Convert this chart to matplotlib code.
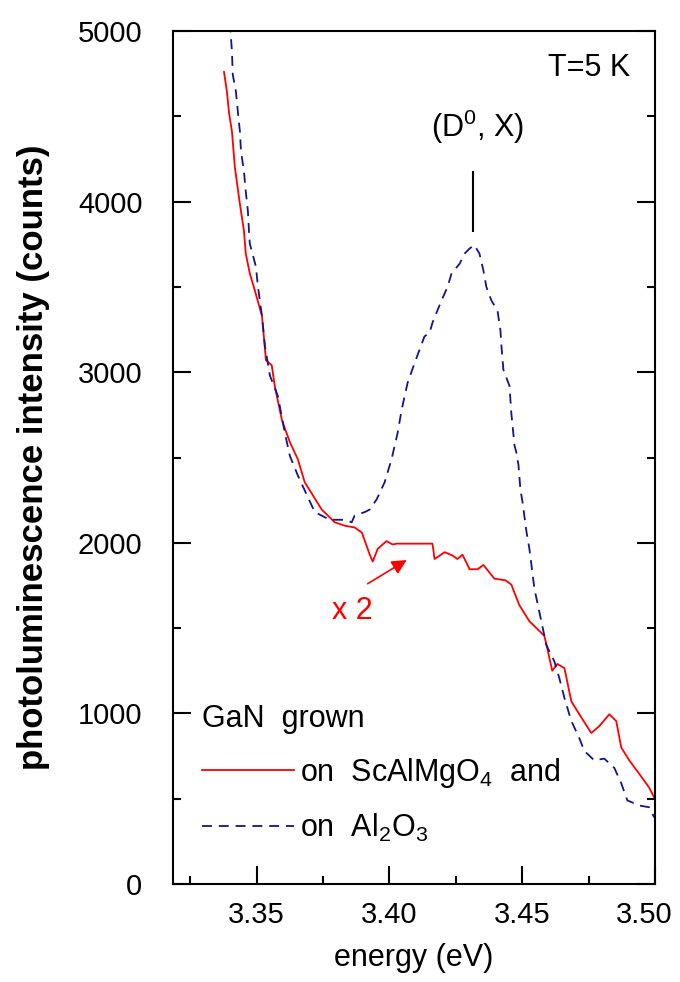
import matplotlib
matplotlib.use("Agg")
import matplotlib.pyplot as plt
import matplotlib.transforms as mtrans
from matplotlib.ticker import MultipleLocator, FixedLocator

# data (energy in eV, intensity in counts)
SCALMGO4_E = [3.3377, 3.3388, 3.3396, 3.3407, 3.3418, 3.3437, 3.3452, 3.3459,
              3.3474, 3.3493, 3.3520, 3.3527, 3.3535, 3.3557, 3.3568, 3.3595,
              3.3625, 3.3655, 3.3681, 3.3711, 3.3745, 3.3794, 3.3832, 3.3869,
              3.3896, 3.3926, 3.3937, 3.3956, 3.3989, 3.4012, 3.4027, 3.4162,
              3.4170, 3.4208, 3.4238, 3.4256, 3.4275, 3.4302, 3.4332, 3.4354,
              3.4395, 3.4437, 3.4459, 3.4489, 3.4527, 3.4583, 3.4591, 3.4613,
              3.4632, 3.4659, 3.4685, 3.4715, 3.4760, 3.4790, 3.4828, 3.4854,
              3.4873, 3.4903, 3.4941, 3.4978, 3.4997]
SCALMGO4_I = [4760, 4645, 4520, 4410, 4200, 3985, 3830, 3695,
              3580, 3480, 3330, 3210, 3070, 3040, 2920, 2720,
              2590, 2490, 2355, 2280, 2195, 2120, 2100, 2090,
              2060, 1930, 1890, 1965, 2010, 1990, 1995, 1995,
              1905, 1945, 1925, 1905, 1930, 1845, 1845, 1870,
              1790, 1780, 1755, 1635, 1540, 1455, 1405, 1250,
              1290, 1265, 1070, 995, 885, 925, 995, 955,
              800, 725, 645, 565, 507]

AL2O3_E = [3.3399, 3.3407, 3.3410, 3.3422, 3.3429, 3.3437, 3.3441, 3.3452,
           3.3459, 3.3467, 3.3471, 3.3474, 3.3497, 3.3505, 3.3520, 3.3531,
           3.3550, 3.3580, 3.3606, 3.3625, 3.3655, 3.3689, 3.3719, 3.3775,
           3.3832, 3.3858, 3.3869, 3.3907, 3.3926, 3.3952, 3.3982, 3.4008,
           3.4031, 3.4046, 3.4068, 3.4095, 3.4132, 3.4151, 3.4162, 3.4196,
           3.4219, 3.4234, 3.4264, 3.4283, 3.4302, 3.4320, 3.4339, 3.4354,
           3.4365, 3.4384, 3.4407, 3.4418, 3.4422, 3.4429, 3.4452, 3.4459,
           3.4471, 3.4478, 3.4486, 3.4493, 3.4501, 3.4516, 3.4527, 3.4546,
           3.4572, 3.4591, 3.4621, 3.4640, 3.4659, 3.4685, 3.4715, 3.4734,
           3.4771, 3.4809, 3.4847, 3.4873, 3.4896, 3.4941, 3.4978, 3.4997]
AL2O3_I = [5050, 4880, 4745, 4645, 4530, 4410, 4295, 4180,
           4060, 3945, 3830, 3755, 3620, 3500, 3330, 3155,
           2980, 2860, 2645, 2510, 2395, 2280, 2180, 2135,
           2135, 2120, 2160, 2180, 2195, 2255, 2355, 2490,
           2645, 2780, 2935, 3055, 3210, 3230, 3290, 3420,
           3500, 3580, 3635, 3695, 3725, 3745, 3695, 3595,
           3500, 3420, 3360, 3245, 3150, 3015, 2920, 2760,
           2570, 2530, 2455, 2315, 2240, 2065, 1965, 1730,
           1540, 1400, 1305, 1205, 1090, 955, 855, 780,
           725, 735, 680, 590, 490, 460, 450, 390]

X_TICKS = [3.35, 3.40, 3.45, 3.50]
X_TICK_LABELS = ["3.35", "3.40", "3.45", "3.50"]
Y_TICKS = [0, 1000, 2000, 3000, 4000, 5000]

PEAK_E = 3.4313
PEAK_MARK = (3823, 4178)
ARROW_FROM = (3.3918, 1760)
ARROW_TO = (3.4065, 1899)

RED = "#ff0000"
BLUE = "#14148c"
FONT = ["Liberation Sans", "DejaVu Sans"]


def main():
    plt.rcParams["font.family"] = FONT
    fig = plt.figure(figsize=(6.8, 9.82), dpi=100)
    ax = fig.add_axes([173 / 680, 98 / 982, 482 / 680, 853 / 982])

    ax.plot(SCALMGO4_E, SCALMGO4_I, color=RED, lw=1.3,
            label=r"on  ScAlMgO$_\mathregular{4}$  and")
    ax.plot(AL2O3_E, AL2O3_I, color=BLUE, lw=1.3, dashes=(5.5, 3.8),
            label=r"on  Al$_\mathregular{2}$O$_\mathregular{3}$")

    ax.set_xlim(3.3185, 3.50)
    ax.set_ylim(0, 5000)

    # axes styling
    for s in ax.spines.values():
        s.set_linewidth(1.5)
    ax.xaxis.set_major_locator(FixedLocator(X_TICKS))
    ax.set_xticklabels(X_TICK_LABELS)
    ax.xaxis.set_minor_locator(MultipleLocator(0.025))
    ax.set_yticks(Y_TICKS)
    ax.yaxis.set_minor_locator(MultipleLocator(500))
    ax.tick_params(axis="x", which="both", direction="in", top=False,
                   labelsize=21, pad=12, width=1.5)
    ax.tick_params(axis="y", which="both", direction="in", right=True,
                   labelsize=21, pad=22, width=1.5)
    ax.tick_params(which="major", length=13)
    ax.tick_params(which="minor", length=6)

    # last x label sits on the figure edge, nudge it inwards
    last = ax.get_xticklabels()[-1]
    last.set_transform(last.get_transform() +
                       mtrans.ScaledTranslation(-8 / 72, 0, fig.dpi_scale_trans))

    ax.set_xlabel("energy (eV)", fontsize=22, labelpad=10)
    ax.set_ylabel("photoluminescence intensity (counts)", fontsize=25,
                  fontweight="bold", labelpad=20)

    # annotations
    ax.text(0.948, 0.957, "T=5 K", transform=ax.transAxes, fontsize=22,
            ha="right", va="center")
    ax.vlines(PEAK_E, *PEAK_MARK, color="black", lw=1.5)
    ax.text(PEAK_E + 0.0017, 4440, r"(D$^\mathregular{0}$, X)", fontsize=22,
            ha="center", va="center")
    ax.annotate("", xy=ARROW_TO, xytext=ARROW_FROM,
                arrowprops=dict(arrowstyle="-|>", color=RED, lw=1.2,
                                mutation_scale=22, shrinkA=0, shrinkB=0))
    ax.text(3.3862, 1600, "x 2", color=RED, fontsize=22, ha="center",
            va="center")

    ax.legend(title="GaN  grown", loc="lower left",
              bbox_to_anchor=(0.035, 0.033), frameon=False,
              fontsize=22, title_fontsize=22, handlelength=3.0,
              handletextpad=0.2, labelspacing=0.72, borderaxespad=0,
              alignment="left")

    fig.savefig("out.png", dpi=100)


if __name__ == "__main__":
    main()
